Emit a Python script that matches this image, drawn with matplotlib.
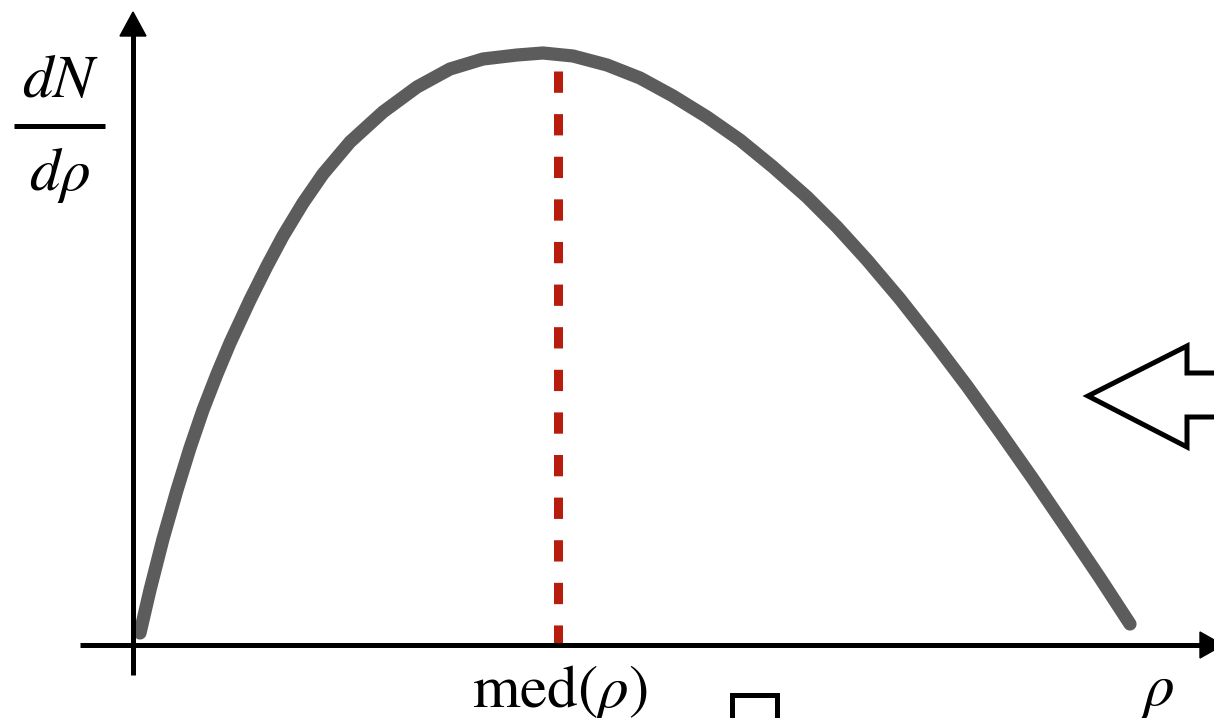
import matplotlib
matplotlib.use("Agg")
import matplotlib.pyplot as plt
from matplotlib.patches import Polygon, Rectangle

plt.rcParams["mathtext.fontset"] = "stix"

# density curve dN/drho sampled along rho (axis origin at 0, 0)
rho = [7, 17, 30, 44, 57, 70, 84, 97, 117, 134, 150, 170, 190, 217, 250, 284,
       317, 350, 384, 410, 440, 474, 507, 540, 574, 607, 640, 674, 704, 734,
       767, 800, 834, 867, 900, 934, 967, 997]
density = [12, 55, 106, 155, 197, 235, 271, 302, 345, 379, 409, 442, 471, 503,
           533, 558, 576, 586, 590, 592, 589, 580, 567, 549, 528, 505, 478, 448,
           418, 385, 346, 304, 259, 213, 166, 116, 67, 21]
median_rho = 425
median_height = 574

fig = plt.figure(figsize=(12.14, 7.18), dpi=100)
ax = fig.add_axes([0, 0, 1, 1])
ax.set_xlim(-133, 1081)
ax.set_ylim(-73, 645)
ax.axis("off")

# axes with arrow heads
ax.plot([-53, 1068], [0, 0], color="black", lw=3.6, solid_capstyle="butt", zorder=3)
ax.plot([0, 0], [-30, 610], color="black", lw=3.6, solid_capstyle="butt", zorder=3)
ax.add_patch(Polygon([[-13, 609], [13, 609], [0, 633]], closed=True,
                     color="black", zorder=4))
ax.add_patch(Polygon([[1067, 13], [1067, -13], [1090, 0]], closed=True,
                     color="black", zorder=4))

# curve
ax.plot(rho, density, color="#5c5c5c", lw=9.5, solid_capstyle="round",
        solid_joinstyle="round", zorder=2)

# median marker, dashed from the top down to the axis
ax.plot([median_rho, median_rho], [median_height, -3], color="#b71c0c", lw=6.5,
        dashes=(2.36, 2.36), dash_capstyle="butt", zorder=2.5)

# labels
ax.text(-73, 565, r"$dN$", fontsize=44, ha="center", va="center")
ax.plot([-119, -28], [519, 519], color="black", lw=3.6, solid_capstyle="butt")
ax.text(-73, 470, r"$d\rho$", fontsize=44, ha="center", va="center")
ax.text(427, -48, r"$\mathrm{med}(\rho)$", fontsize=44, ha="center", va="center")
ax.text(1025, -45, r"$\rho$", fontsize=44, ha="center", va="center")

# outlined arrow pointing left
ax.add_patch(Polygon([[1090, 272], [1054, 272], [1054, 299], [955, 249],
                      [1054, 198], [1054, 228], [1090, 228]], closed=True,
                     facecolor="white", edgecolor="black", lw=3.6,
                     joinstyle="miter", zorder=3, clip_on=False))

# partially visible box
ax.add_patch(Rectangle((599, -90), 45, 40, facecolor="none", edgecolor="black",
                       lw=3.6, zorder=3))

fig.savefig("out.png", dpi=100)
